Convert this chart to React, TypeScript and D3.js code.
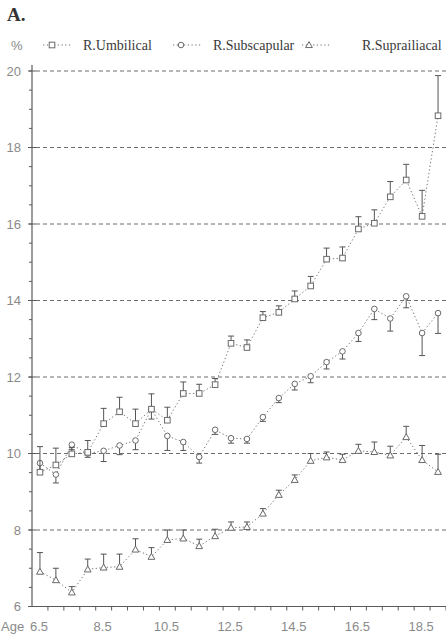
import React from "react";
import * as d3 from "d3";

// Ages (years) at which skinfold ratios were measured
const ages = [6.5, 7, 7.5, 8, 8.5, 9, 9.5, 10, 10.5, 11, 11.5, 12, 12.5, 13, 13.5, 14, 14.5, 15, 15.5, 16, 16.5, 17, 17.5, 18, 18.5, 19];

// R.Umbilical: mean and upper error bound (%)
const umbilical = [9.51, 9.7, 9.99, 10.03, 10.78, 11.09, 10.78, 11.16, 10.87, 11.57, 11.57, 11.8, 12.88, 12.77, 13.55, 13.69, 14.04, 14.38, 15.08, 15.11, 15.87, 16.02, 16.71, 17.15, 16.2, 18.83];
const umbilicalHigh = [10.18, 10.14, 10.16, 10.34, 11.18, 11.47, 11.16, 11.56, 11.21, 11.87, 11.81, 11.96, 13.07, 12.97, 13.71, 13.86, 14.25, 14.63, 15.37, 15.4, 16.19, 16.37, 17.11, 17.56, 16.88, 19.88];

// R.Subscapular: mean and lower error bound (%)
const subscapular = [9.75, 9.45, 10.23, 10.0, 10.07, 10.21, 10.34, 11.16, 10.46, 10.3, 9.91, 10.62, 10.4, 10.38, 10.95, 11.45, 11.82, 12.02, 12.39, 12.67, 13.15, 13.78, 13.53, 14.11, 13.15, 13.67];
const subscapularLow = [9.55, 9.23, 10.1, 9.9, 9.79, 9.97, 10.1, 10.9, 10.08, 10.08, 9.75, 10.5, 10.27, 10.27, 10.84, 11.33, 11.66, 11.85, 12.21, 12.47, 12.93, 13.5, 13.2, 13.81, 12.56, 13.14];

// R.Suprailiacal: mean and upper error bound (%)
const suprailiacal = [6.91, 6.69, 6.37, 6.97, 7.02, 7.04, 7.49, 7.3, 7.74, 7.78, 7.58, 7.84, 8.06, 8.08, 8.43, 8.92, 9.31, 9.81, 9.9, 9.83, 10.07, 10.04, 9.95, 10.43, 9.83, 9.52];
const suprailiacalHigh = [7.41, 7.0, 6.52, 7.24, 7.37, 7.37, 7.77, 7.54, 8.0, 8.0, 7.76, 8.02, 8.21, 8.21, 8.56, 9.04, 9.44, 10.0, 10.04, 9.98, 10.24, 10.3, 10.19, 10.71, 10.21, 9.98];

const seriesNames = ["R.Umbilical", "R.Subscapular", "R.Suprailiacal"];
const xTickLabels = [6.5, 8.5, 10.5, 12.5, 14.5, 16.5, 18.5];
const yTickLabels = [6, 8, 10, 12, 14, 16, 18, 20];
const gridValues = [8, 10, 12, 14, 16, 18, 20];

const W = 446;
const H = 634;

const x = d3.scaleLinear().domain([6.25, 19.25]).range([32, 446]);
const y = d3.scaleLinear().domain([6, 20]).range([606.5, 71]);

const INK = "#5a5a5a";
const MARK = "#6a6a6a";
const SANS = "'Liberation Sans', Arial, sans-serif";
const SERIF = "'Liberation Serif', 'Times New Roman', serif";

type Shape = "square" | "circle" | "triangle";

function Marker({ cx, cy, shape }: { cx: number; cy: number; shape: Shape }) {
  const common = { fill: "#fff", stroke: MARK, strokeWidth: 1 };
  if (shape === "square") return <rect x={cx - 2.8} y={cy - 2.8} width={5.6} height={5.6} {...common} />;
  if (shape === "circle") return <circle cx={cx} cy={cy} r={2.8} {...common} />;
  const s = 3.4;
  return <path d={`M${cx},${cy - s}L${cx + s},${cy + s * 0.75}L${cx - s},${cy + s * 0.75}Z`} {...common} />;
}

const line = d3
  .line<[number, number]>()
  .x((d) => x(d[0]))
  .y((d) => y(d[1]));

function Series({ values, bounds, shape }: { values: number[]; bounds: number[]; shape: Shape }) {
  const pts = ages.map((a, i) => [a, values[i]] as [number, number]);
  return (
    <g>
      <path d={line(pts) || ""} fill="none" stroke="#777" strokeWidth={1} strokeDasharray="1.3,2.4" />
      {ages.map((a, i) => {
        const cx = x(a);
        const y0 = y(values[i]);
        const y1 = y(bounds[i]);
        return (
          <g key={i} stroke="#555" strokeWidth={1}>
            <line x1={cx} x2={cx} y1={y0} y2={y1} />
            <line x1={cx - 3} x2={cx + 3} y1={y1} y2={y1} />
          </g>
        );
      })}
      {ages.map((a, i) => (
        <Marker key={i} cx={x(a)} cy={y(values[i])} shape={shape} />
      ))}
    </g>
  );
}

function LegendItem({ x0, x1, mx, tx, label, shape }: { x0: number; x1: number; mx: number; tx: number; label: string; shape: Shape }) {
  const ly = 45;
  return (
    <g>
      <line x1={x0} x2={x1} y1={ly} y2={ly} stroke="#777" strokeDasharray="1.3,2.4" />
      <Marker cx={mx} cy={ly} shape={shape} />
      <text x={tx} y={50} fontFamily={SERIF} fontSize={14} fill="#3a3a3a">
        {label}
      </text>
    </g>
  );
}

export default function App() {
  const minorY = d3.range(6, 20.01, 0.5);
  const xTicks = d3.range(6.75, 19.26, 0.5);
  return (
    <svg width={W} height={H} style={{ position: "fixed", left: 0, top: 0, background: "#fff" }}>
      <text x={7} y={21} fontFamily={SERIF} fontSize={19} fontWeight="bold" fill="#333">
        A.
      </text>
      <text x={11} y={50} fontFamily={SANS} fontSize={13} fill="#888">
        %
      </text>
      <LegendItem x0={43} x1={71} mx={52} tx={83} label={seriesNames[0]} shape="square" />
      <LegendItem x0={173} x1={201} mx={181} tx={213} label={seriesNames[1]} shape="circle" />
      <LegendItem x0={302} x1={330} mx={309} tx={362} label={seriesNames[2]} shape="triangle" />

      {/* horizontal reference lines */}
      {gridValues.map((v) => (
        <line key={v} x1={36} x2={W} y1={y(v)} y2={y(v)} stroke="#6d6d6d" strokeWidth={1} strokeDasharray="4,3" />
      ))}

      {/* y axis */}
      <line x1={32} x2={32} y1={65} y2={y(6)} stroke={INK} strokeWidth={1.2} />
      {minorY.map((v) => (
        <line key={v} x1={29} x2={32} y1={y(v)} y2={y(v)} stroke={INK} />
      ))}
      {yTickLabels.map((v) => (
        <g key={v}>
          <line x1={28} x2={36} y1={y(v)} y2={y(v)} stroke={INK} />
          <text x={21} y={y(v)} dy="0.36em" textAnchor="end" fontFamily={SANS} fontSize={13} fill="#8a8a8a">
            {v}
          </text>
        </g>
      ))}

      {/* x axis */}
      <line x1={32} x2={W} y1={y(6)} y2={y(6)} stroke={INK} strokeWidth={1.2} />
      {xTicks.map((a) => (
        <line key={a} x1={x(a)} x2={x(a)} y1={y(6)} y2={y(6) + 4} stroke={INK} />
      ))}
      <text x={1} y={631} fontFamily={SANS} fontSize={13} fill="#8a8a8a">
        Age
      </text>
      {xTickLabels.map((a) => (
        <text key={a} x={x(a) - 1} y={631} textAnchor="middle" fontFamily={SANS} fontSize={13} fill="#8a8a8a">
          {a}
        </text>
      ))}

      <Series values={suprailiacal} bounds={suprailiacalHigh} shape="triangle" />
      <Series values={subscapular} bounds={subscapularLow} shape="circle" />
      <Series values={umbilical} bounds={umbilicalHigh} shape="square" />
    </svg>
  );
}
